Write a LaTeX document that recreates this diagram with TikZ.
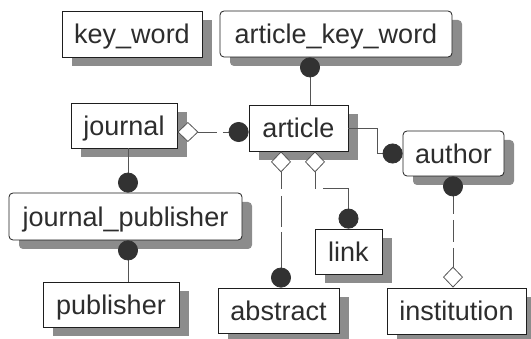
\documentclass[tikz,border=0pt]{standalone}
\usepackage{fontspec}
\setmainfont{Liberation Sans}
\usetikzlibrary{arrows.meta,shadows}

\definecolor{txtc}{RGB}{45,45,45}
\definecolor{boxc}{RGB}{30,30,30}
\definecolor{linec}{RGB}{85,85,85}
\definecolor{dotc}{RGB}{50,50,50}
\definecolor{shadec}{RGB}{140,140,140}

\tikzset{
  ent/.style={draw=boxc, fill=white, line width=0.8pt, text=txtc,
    font=\fontsize{27}{30}\selectfont, inner sep=0pt,
    text height=20pt, text depth=0pt,
    drop shadow={shadow xshift=10pt, shadow yshift=-9pt, fill=shadec, opacity=1}},
  rent/.style={ent, rounded corners=4pt},
  conn/.style={draw=linec, line width=0.8pt},
  dot/.tip={Circle[length=20pt, color=dotc, fill=dotc]},
  dia/.tip={Diamond[length=21pt, width=20pt, color=linec, fill=white]},
}

\begin{document}
\begin{tikzpicture}[x=1pt, y=-1pt]
  \useasboundingbox (0,0) rectangle (531,339);

  % entities
  \node[ent,  minimum width=140pt, minimum height=46pt] (kw)   at (132,34)    {key\_word};
  \node[rent, minimum width=232pt, minimum height=46pt] (akw)  at (336,34)    {article\_key\_word};
  \node[ent,  minimum width=106pt, minimum height=45pt] (jour) at (124,125.5) {journal};
  \node[ent,  minimum width=99pt,  minimum height=46pt] (art)  at (298.5,128) {article};
  \node[rent, minimum width=101pt, minimum height=45pt] (auth) at (453.5,153.5) {author};
  \node[rent, minimum width=233pt, minimum height=47pt] (jp)   at (125.5,216.5) {journal\_publisher};
  \node[ent,  minimum width=67pt,  minimum height=45pt] (link) at (348.5,251.5) {link};
  \node[ent,  minimum width=136pt, minimum height=45pt] (pub)  at (111,304.5) {publisher};
  \node[ent,  minimum width=121pt, minimum height=45pt] (abs)  at (278.5,310.5) {abstract};
  \node[ent,  minimum width=139pt, minimum height=46pt] (inst) at (456.5,311) {institution};

  % relationships
  \draw[conn, -{dot}] ([xshift=11.5pt]art.north) -- ([xshift=11.5pt]art.north |- akw.south);
  \draw[conn, dash pattern=on 19pt off 6pt, {dia}-{dot}]
    ([yshift=-6.5pt]jour.east) -- ([yshift=-6.5pt]jour.east -| art.west);
  \draw[conn, -{dot}] (art.east) -- ++(29,0) |- (auth.west);
  \draw[conn, dash pattern=on 17pt off 7pt on 31pt off 5pt on 60pt off 1pt, {dia}-{dot}]
    ([xshift=-17.5pt]art.south) -- ([xshift=-17.5pt]art.south |- abs.north);
  \draw[conn, dash pattern=on 18pt off 7pt on 100pt off 1pt, {dia}-{dot}]
    ([xshift=16.5pt]art.south) -- ++(0,37) -| (link.north);
  \draw[conn, -{dot}] ([xshift=4pt]jour.south) -- ([xshift=4pt]jour.south |- jp.north);
  \draw[conn, {dot}-] ([xshift=2.5pt]jp.south) -- ([xshift=2.5pt]jp.south |- pub.north);
  \draw[conn, dash pattern=on 18pt off 6pt on 22pt off 6pt on 40pt off 1pt, {dot}-{dia}]
    ([xshift=-0.5pt]auth.south) -- ([xshift=-0.5pt]auth.south |- inst.north);
\end{tikzpicture}
\end{document}
